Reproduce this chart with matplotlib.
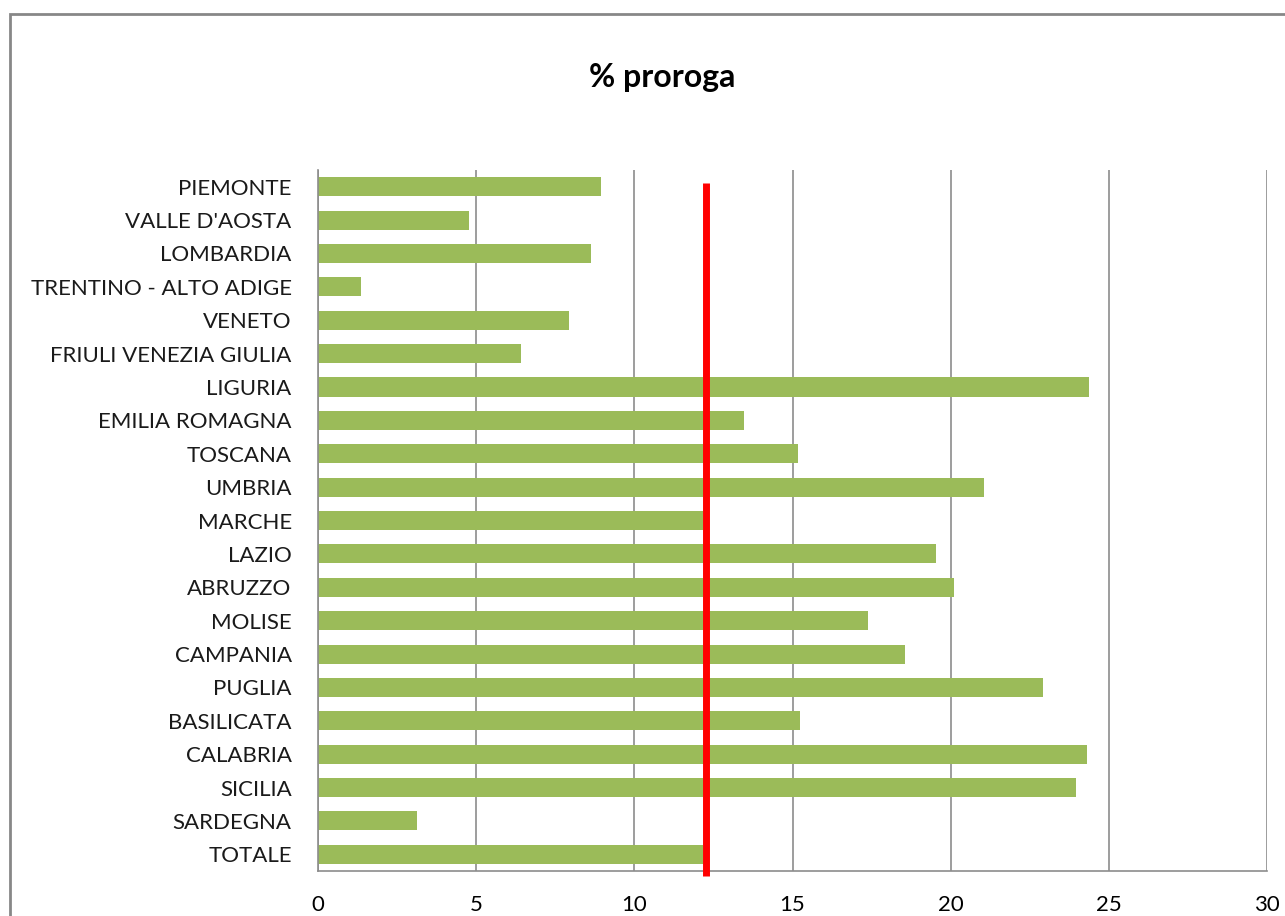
import matplotlib.pyplot as plt
from matplotlib.patches import Rectangle
import numpy as np

regions = ["PIEMONTE", "VALLE D'AOSTA", "LOMBARDIA", "TRENTINO - ALTO ADIGE", "VENETO",
           "FRIULI VENEZIA GIULIA", "LIGURIA", "EMILIA ROMAGNA", "TOSCANA", "UMBRIA",
           "MARCHE", "LAZIO", "ABRUZZO", "MOLISE", "CAMPANIA", "PUGLIA", "BASILICATA",
           "CALABRIA", "SICILIA", "SARDEGNA", "TOTALE"]
proroga = [8.95, 4.77, 8.63, 1.36, 7.94, 6.42, 24.38, 13.47, 15.18, 21.06,
           12.17, 19.54, 20.11, 17.39, 18.56, 22.92, 15.24, 24.31, 23.96, 3.13, 12.17]
media = 12.25
xticks = [0, 5, 10, 15, 20, 25, 30]

plt.rcParams['font.family'] = ['Lato', 'DejaVu Sans']

fig = plt.figure(figsize=(12.85, 9.16), dpi=100)
ax = fig.add_axes([0.2475, 0.0491, 0.7385, 0.7653])

# chart border (only top/left visible in the reference)
fig.patches.append(Rectangle((10/1285, -0.2), 1.2, 1.2 - 14/916,
                             transform=fig.transFigure, fill=False,
                             edgecolor="#878787", linewidth=2, clip_on=False))

y = np.arange(len(regions))
ax.barh(y, proroga, height=0.57, color="#9BBB59", zorder=2)
ax.vlines(media, -0.1, 20.66, color="#FF0000", linewidth=5, zorder=3, clip_on=False)

ax.set_xlim(0, 30)
ax.set_ylim(len(regions) - 0.5, -0.5)
ax.set_xticks(xticks)
ax.set_xticklabels([str(t) for t in xticks], fontsize=16)
ax.set_yticks(y)
ax.set_yticklabels(regions, fontsize=16, color="#1a1a1a")
ax.tick_params(axis="y", length=0, pad=19)
ax.tick_params(axis="x", length=0, pad=17)
ax.xaxis.grid(True, color="#8C8C8C", linewidth=1.2, zorder=0)
ax.set_axisbelow(True)
for s in ["top", "right"]:
    ax.spines[s].set_visible(False)
for s in ["left", "bottom"]:
    ax.spines[s].set_color("#8C8C8C")
    ax.spines[s].set_linewidth(1.2)

fig.text(662/1285, 1 - 78/916, "% proroga", ha="center", va="center",
         fontsize=23, fontweight="bold")

fig.savefig("out.png", dpi=100)
